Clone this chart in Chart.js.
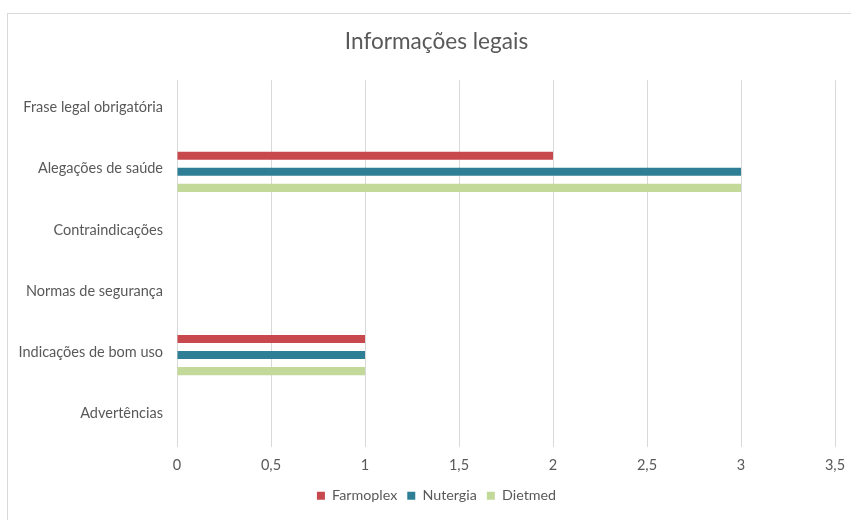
<!DOCTYPE html>
<html>
<head>
<meta charset="utf-8">
<script src="https://cdn.jsdelivr.net/npm/chart.js@4"></script>
<style>
  html, body { margin: 0; padding: 0; background: #fff; }
  #wrap { position: relative; width: 851px; height: 520px; }
  #frame { position: absolute; left: 7px; top: 13px; right: -1px; bottom: -1px;
           border-left: 1px solid #D9D9D9; border-top: 1px solid #D9D9D9; }
  canvas { position: absolute; left: 0; top: 0; }
</style>
</head>
<body>
<div id="wrap">
  <div id="frame"></div>
  <canvas id="chart" width="851" height="520"></canvas>
</div>
<script>
// Categories, top to bottom
const categories = [
  'Frase legal obrigatória',
  'Alegações de saúde',
  'Contraindicações',
  'Normas de segurança',
  'Indicações de bom uso',
  'Advertências'
];

// Series values per category
const farmoplex = [0, 2, 0, 0, 1, 0];
const nutergia  = [0, 3, 0, 0, 1, 0];
const dietmed   = [0, 3, 0, 0, 1, 0];

const seriesNames = ['Farmoplex', 'Nutergia', 'Dietmed'];
const chartTitle = 'Informações legais';

const textColor = '#595959';
const gridColor = '#D9D9D9';
const fontFamily = 'Lato, "Open Sans", sans-serif';

// Let the long category labels extend past the left edge of the y-axis box
const unclipCategoryLabels = {
  id: 'unclipCategoryLabels',
  afterLayout(chart) {
    chart.scales.y.left = 0;
  }
};

new Chart(document.getElementById('chart'), {
  type: 'bar',
  data: {
    labels: categories,
    datasets: [
      { label: seriesNames[0], data: farmoplex, backgroundColor: '#C8494D' },
      { label: seriesNames[1], data: nutergia,  backgroundColor: '#2E7F95' },
      { label: seriesNames[2], data: dietmed,   backgroundColor: '#C2D99A' }
    ]
  },
  plugins: [unclipCategoryLabels],
  options: {
    indexAxis: 'y',
    responsive: false,
    animation: false,
    devicePixelRatio: 1,
    datasets: { bar: { categoryPercentage: 0.79, barPercentage: 0.5, borderWidth: 0 } },
    layout: { padding: { left: 38, right: 16, top: 0, bottom: 7 } },
    plugins: {
      title: {
        display: true,
        text: chartTitle,
        color: textColor,
        font: { family: fontFamily, size: 22.6, weight: 'normal' },
        padding: { top: 28, bottom: 25 }
      },
      legend: {
        position: 'bottom',
        labels: {
          color: textColor,
          font: { family: fontFamily, size: 14.3 },
          boxWidth: 8,
          boxHeight: 8,
          padding: 10
        }
      },
      tooltip: { enabled: false }
    },
    scales: {
      x: {
        min: 0,
        max: 3.5,
        ticks: {
          stepSize: 0.5,
          color: textColor,
          font: { family: fontFamily, size: 14.5 },
          padding: 10,
          callback: v => String(v).replace('.', ',')
        },
        grid: { color: gridColor, drawTicks: false, lineWidth: 1 },
        border: { display: false },
        afterFit: s => { s.height = 32; s.paddingLeft = 0; s.paddingRight = 0; }
      },
      y: {
        ticks: {
          color: textColor,
          font: { family: fontFamily, size: 14.5 },
          padding: 14,
          labelOffset: -3
        },
        grid: { display: false, drawTicks: false },
        border: { display: false },
        afterFit: s => { s.width = 139; }
      }
    }
  }
});
</script>
</body>
</html>
